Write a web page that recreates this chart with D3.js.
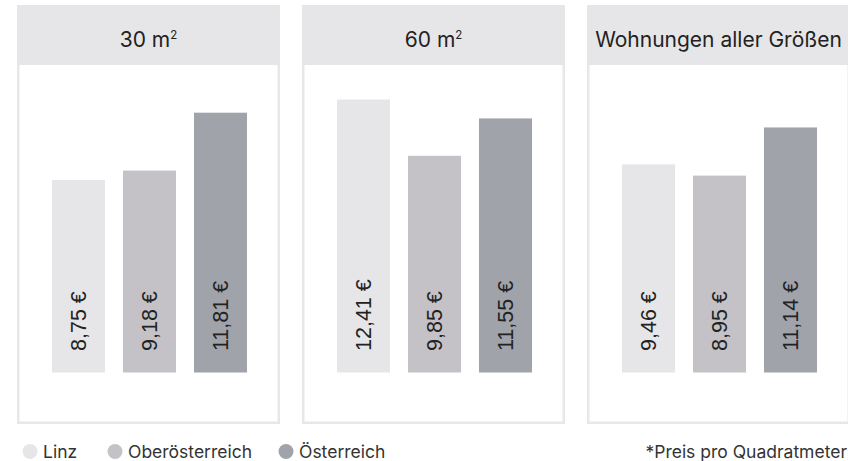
<!DOCTYPE html>
<html lang="de">
<head>
<meta charset="utf-8">
<script src="https://cdn.jsdelivr.net/npm/d3@7"></script>
<style>
  html, body { margin: 0; padding: 0; background: #fff; }
  svg { display: block; }
</style>
</head>
<body>
<svg id="chart" width="848" height="461"></svg>
<script>
  // Mietpreise pro m2 (EUR)
  const panelTitles = ["30 m²", "60 m²", "Wohnungen aller Größen"];
  const seriesNames = ["Linz", "Oberösterreich", "Österreich"];
  const linzValues = [8.75, 12.41, 9.46];
  const oberoesterreichValues = [9.18, 9.85, 8.95];
  const oesterreichValues = [11.81, 11.55, 11.14];
  const footnote = "*Preis pro Quadratmeter";

  const colors = ["#e6e6e8", "#c4c2c7", "#a1a3aa"];
  const seriesValues = [linzValues, oberoesterreichValues, oesterreichValues];

  const svg = d3.select("#chart");
  const headFont = "Inter, 'Noto Sans', sans-serif";
  const labelFont = "'Liberation Sans', Arial, sans-serif";

  const panelX = d3.scaleBand().domain(panelTitles).range([17, 850]).paddingInner(22 / 285);
  const barX = d3.scaleBand().domain(seriesNames).range([35, 230]).paddingInner(18 / 71);
  const y = d3.scaleLinear().domain([0, 12.41]).range([372.5, 99.5]);

  const fmt = (v) => d3.format(".2f")(v).replace(".", ",") + " €";

  const panel = svg.selectAll("g.panel")
    .data(panelTitles)
    .join("g")
    .attr("class", "panel")
    .attr("transform", (d) => `translate(${panelX(d)},0)`);

  const pw = panelX.bandwidth();

  panel.append("rect")
    .attr("x", 1.25).attr("y", 6.25)
    .attr("width", pw - 2.5).attr("height", 419 - 2.5)
    .attr("fill", "#fff")
    .attr("stroke", "#e7e7e9")
    .attr("stroke-width", 2.5);

  panel.append("rect")
    .attr("x", 0).attr("y", 5)
    .attr("width", pw).attr("height", 60)
    .attr("fill", "#e6e6e8");

  const title = panel.append("text")
    .attr("x", pw / 2)
    .attr("y", 47)
    .attr("text-anchor", "middle")
    .attr("font-family", headFont)
    .attr("font-size", 21)
    .attr("fill", "#222");

  title.each(function (d) {
    const t = d3.select(this);
    if (d.endsWith("²")) {
      t.append("tspan").text(d.slice(0, -1));
      t.append("tspan").attr("font-size", 11.5).attr("dy", -8).text("2");
    } else {
      t.text(d);
    }
  });

  panel.each(function (d, pi) {
    const g = d3.select(this);
    const rows = seriesNames.map((s, si) => ({ s, si, v: seriesValues[si][pi] }));

    g.selectAll("rect.bar")
      .data(rows)
      .join("rect")
      .attr("class", "bar")
      .attr("x", (r) => barX(r.s))
      .attr("y", (r) => y(r.v))
      .attr("width", barX.bandwidth())
      .attr("height", (r) => y(0) - y(r.v))
      .attr("fill", (r) => colors[r.si]);

    g.selectAll("text.val")
      .data(rows)
      .join("text")
      .attr("class", "val")
      .attr("transform", (r) => `translate(${barX(r.s) + barX.bandwidth() / 2 + 7},351) rotate(-90)`)
      .attr("font-family", labelFont)
      .attr("font-size", 21.5)
      .attr("fill", "#222")
      .text((r) => fmt(r.v));
  });

  // Legende
  const legendX = [22.5, 107.5, 278.5];
  const legend = svg.selectAll("g.legend")
    .data(seriesNames)
    .join("g")
    .attr("class", "legend")
    .attr("transform", (d, i) => `translate(${legendX[i]},451.5)`);

  legend.append("circle")
    .attr("cx", 7.5).attr("cy", 0).attr("r", 7.5)
    .attr("fill", (d, i) => colors[i]);

  legend.append("text")
    .attr("x", 20.5).attr("y", 6)
    .attr("font-family", headFont)
    .attr("font-size", 17.5)
    .attr("fill", "#333")
    .text((d) => d);

  svg.append("text")
    .attr("x", 847).attr("y", 457.5)
    .attr("text-anchor", "end")
    .attr("font-family", headFont)
    .attr("font-size", 17.5)
    .attr("fill", "#333")
    .text(footnote);
</script>
</body>
</html>
